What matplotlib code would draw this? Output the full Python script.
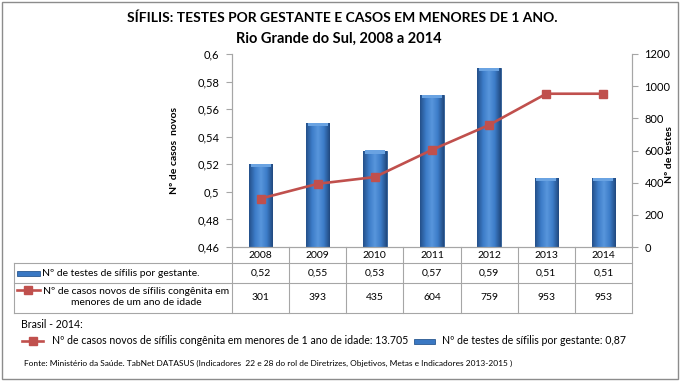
import matplotlib as mpl
import matplotlib.pyplot as plt
import numpy as np
from matplotlib.colors import LinearSegmentedColormap
from matplotlib.lines import Line2D
from matplotlib.patches import Rectangle

mpl.rcParams["font.family"] = ["Lato", "DejaVu Sans"]

# -------------------------------------
# Data
# -------------------------------------

years = ["2008", "2009", "2010", "2011", "2012", "2013", "2014"]
testes = [0.52, 0.55, 0.53, 0.57, 0.59, 0.51, 0.51]
casos = [301, 393, 435, 604, 759, 953, 953]

testes_labels = ["0,52", "0,55", "0,53", "0,57", "0,59", "0,51", "0,51"]
left_ticks = [0.46, 0.48, 0.50, 0.52, 0.54, 0.56, 0.58, 0.60]
left_tick_labels = ["0,46", "0,48", "0,5", "0,52", "0,54", "0,56", "0,58", "0,6"]
right_ticks = [0, 200, 400, 600, 800, 1000, 1200]

BLUE = "#3a78c3"
EDGE = "#2a5890"
RED = "#c0504d"
GRID = "#a6a6a6"

W, H = 680, 381


def fx(px):
    return px / W


def fy(py):
    return 1 - py / H


# -------------------------------------
# Figure
# -------------------------------------

fig = plt.figure(figsize=(6.8, 3.81), dpi=100)
fig.patches.append(
    Rectangle((fx(2), fy(379)), fx(676), 377 / H, transform=fig.transFigure,
              fill=False, edgecolor="#8c8c8c", lw=1.0)
)

ax = fig.add_axes([fx(232), fy(247), fx(400), 193 / H])
ax2 = ax.twinx()

x = np.arange(len(years))

# bars with a horizontal gradient
bars = ax.bar(x, testes, width=0.41, color=BLUE, edgecolor=EDGE, lw=0.6,
              zorder=2)
cmap = LinearSegmentedColormap.from_list(
    "bar", ["#24508a", "#3c7cc8", "#5896dc", "#3c7cc8", "#21497f"])
grad = np.linspace(0, 1, 64).reshape(1, -1)
for b in bars:
    x0, x1 = b.get_x(), b.get_x() + b.get_width()
    y1 = b.get_height()
    im = ax.imshow(grad, cmap=cmap, extent=[x0, x1, 0.46, y1], aspect="auto",
                   zorder=2.5)
    im.set_clip_path(b)
    ax.add_patch(Rectangle((x0 + 0.03, y1 - 0.0022), b.get_width() - 0.06,
                           0.0022, color="#6aa3e2", lw=0, zorder=2.6))

ax.set_xlim(-0.5, len(years) - 0.5)
ax.set_ylim(0.46, 0.60)
ax.set_yticks(left_ticks)
ax.set_yticklabels(left_tick_labels)
ax.set_xticks([])
ax.tick_params(axis="y", labelsize=8, length=4, color=GRID, pad=5)

ax2.plot(x, casos, color=RED, lw=1.9, marker="s", markersize=5.3, zorder=3)
ax2.set_ylim(0, 1200)
ax2.set_yticks(right_ticks)
ax2.tick_params(axis="y", labelsize=8, length=4, color=GRID, pad=5)

for a in (ax, ax2):
    a.spines["top"].set_visible(False)
    a.spines["left"].set_color(GRID)
    a.spines["right"].set_color(GRID)
    a.spines["bottom"].set_color(GRID)
ax.set_zorder(ax2.get_zorder() - 1)
ax2.patch.set_visible(False)
ax.set_ylim(0.46, 0.60)

fig.text(fx(175), fy(150), "Nº de casos  novos", rotation=90, ha="center",
         va="center", fontsize=7.5, fontweight="bold")
fig.text(fx(670), fy(155), "Nº de testes", rotation=90, ha="center",
         va="center", fontsize=7.5, fontweight="bold")

fig.text(fx(342), fy(18), "SÍFILIS: TESTES POR GESTANTE E CASOS EM MENORES DE 1 ANO.",
         ha="center", va="center", fontsize=10, fontweight="bold")
fig.text(fx(339), fy(39), "Rio Grande do Sul, 2008 a 2014", ha="center",
         va="center", fontsize=10.5, fontweight="bold")

# -------------------------------------
# Data table
# -------------------------------------

axt = fig.add_axes([fx(232), fy(313), fx(400), 66 / H], sharex=ax)
axt.axis("off")
r1, r2 = (313 - 263) / 66, (313 - 283) / 66
left = (14 - 232) / 400
tr = axt.get_xaxis_transform()
for yy in (r1, r2, 0):
    axt.plot([left, 1], [yy, yy], transform=axt.transAxes, color=GRID, lw=0.8,
             clip_on=False)
axt.plot([left, left], [0, r1], transform=axt.transAxes, color=GRID, lw=0.8,
         clip_on=False)
for i in range(len(years) + 1):
    axt.plot([i - 0.5, i - 0.5], [0, 1], transform=tr, color=GRID, lw=0.8,
             clip_on=False)

for i, yr in enumerate(years):
    axt.text(i, (1 + r1) / 2, yr, transform=tr, ha="center", va="center",
             fontsize=7.5)
    axt.text(i, (r1 + r2) / 2, testes_labels[i], transform=tr, ha="center",
             va="center", fontsize=7.5)
    axt.text(i, r2 / 2, str(casos[i]), transform=tr, ha="center", va="center",
             fontsize=7.5)

# row headers with legend keys
fig.patches.append(Rectangle((fx(17), fy(275.5)), fx(23), 5 / H,
                             transform=fig.transFigure, facecolor=BLUE,
                             edgecolor=EDGE, lw=0.6))
fig.text(fx(42), fy(273), "Nº de testes de sífilis por gestante.", ha="left",
         va="center", fontsize=7.5)
fig.lines.append(Line2D([fx(17), fx(40)], [fy(290), fy(290)],
                        transform=fig.transFigure, color=RED, lw=1.9))
fig.lines.append(Line2D([fx(28.5)], [fy(290)], transform=fig.transFigure,
                        color=RED, marker="s", markersize=5.3))
fig.text(fx(136), fy(297), "Nº de casos novos de sífilis congênita em\nmenores de um ano de idade",
         ha="center", va="center", fontsize=7.5, linespacing=1.4)

# -------------------------------------
# Brasil reference and source
# -------------------------------------

fig.text(fx(21), fy(325), "Brasil - 2014:", ha="left", va="center", fontsize=7.6)
fig.lines.append(Line2D([fx(22), fx(43)], [fy(341), fy(341)],
                        transform=fig.transFigure, color=RED, lw=1.9))
fig.lines.append(Line2D([fx(32.5)], [fy(341)], transform=fig.transFigure,
                        color=RED, marker="s", markersize=5.3))
fig.text(fx(52), fy(341),
         "Nº de casos novos de sífilis congênita em menores de 1 ano de idade: 13.705",
         ha="left", va="center", fontsize=7.6)
fig.patches.append(Rectangle((fx(414), fy(343.5)), fx(21), 5 / H,
                             transform=fig.transFigure, facecolor=BLUE,
                             edgecolor=EDGE, lw=0.6))
fig.text(fx(442), fy(341), "Nº de testes de sífilis por gestante: 0,87",
         ha="left", va="center", fontsize=7.6)
fig.text(fx(24), fy(363),
         "Fonte: Ministério da Saúde. TabNet DATASUS (Indicadores  22 e 28 do rol de Diretrizes, Objetivos, Metas e Indicadores 2013-2015 )",
         ha="left", va="center", fontsize=6)

fig.savefig("out.png", dpi=100)
